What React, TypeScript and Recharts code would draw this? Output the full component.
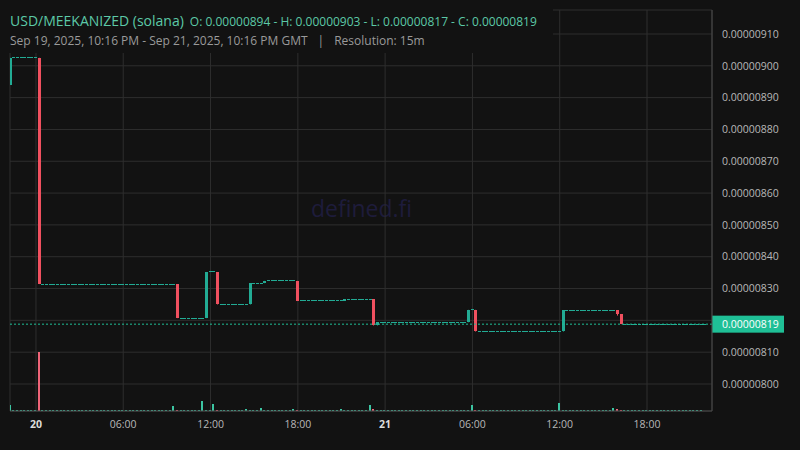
import React from "react";
import { ComposedChart, Bar, XAxis, YAxis, CartesianGrid, ReferenceLine } from "recharts";

const UP = "#22ab94";
const DOWN = "#f0505f";
const VOL_UP = "#3cc4a2";
const VOL_DOWN = "#ee6478";
const BG = "#121212";
const FONT = "'Open Sans', 'Noto Sans', sans-serif";

const PAIR = "USD/MEEKANIZED (solana)";
const OHLC_TEXT = "O: 0.00000894 - H: 0.00000903 - L: 0.00000817 - C: 0.00000819";
const RANGE_TEXT = "Sep 19, 2025, 10:16 PM - Sep 21, 2025, 10:16 PM GMT";
const RESOLUTION_TEXT = "Resolution: 15m";

// 15-minute candles, first slot Sep 19 2025 22:15 GMT
const SERIES_START = Date.UTC(2025, 8, 19, 22, 15);
const RESOLUTION_MS = 15 * 60 * 1000;

const xTicks = [
  Date.UTC(2025, 8, 20, 0, 0), Date.UTC(2025, 8, 20, 6, 0), Date.UTC(2025, 8, 20, 12, 0), Date.UTC(2025, 8, 20, 18, 0),
  Date.UTC(2025, 8, 21, 0, 0), Date.UTC(2025, 8, 21, 6, 0), Date.UTC(2025, 8, 21, 12, 0), Date.UTC(2025, 8, 21, 18, 0),
];
const yTicks = [8.0e-6, 8.1e-6, 8.2e-6, 8.3e-6, 8.4e-6, 8.5e-6, 8.6e-6, 8.7e-6, 8.8e-6, 8.9e-6, 9.0e-6, 9.1e-6];

const opens = [
  8.94e-6,
  9.025e-6, 9.025e-6, 9.025e-6, 9.025e-6, 9.025e-6, 9.025e-6, 9.025e-6, 9.025e-6,
  8.314e-6, 8.314e-6, 8.314e-6, 8.314e-6, 8.314e-6, 8.314e-6, 8.314e-6, 8.314e-6, 8.314e-6, 8.314e-6,
  8.314e-6, 8.314e-6, 8.314e-6, 8.314e-6, 8.314e-6, 8.314e-6, 8.314e-6, 8.314e-6, 8.314e-6, 8.314e-6,
  8.314e-6, 8.314e-6, 8.314e-6, 8.314e-6, 8.314e-6, 8.314e-6, 8.314e-6, 8.314e-6, 8.314e-6, 8.314e-6,
  8.314e-6, 8.314e-6, 8.314e-6, 8.314e-6, 8.314e-6, 8.314e-6, 8.314e-6, 8.314e-6,
  8.207e-6, 8.207e-6, 8.207e-6, 8.207e-6, 8.207e-6, 8.207e-6, 8.207e-6, 8.207e-6,
  8.352e-6, 8.352e-6, 8.352e-6,
  8.25e-6, 8.25e-6, 8.25e-6, 8.25e-6, 8.25e-6, 8.25e-6, 8.25e-6, 8.25e-6, 8.25e-6,
  8.317e-6, 8.317e-6, 8.317e-6, 8.317e-6,
  8.324e-6, 8.324e-6, 8.324e-6, 8.324e-6, 8.324e-6, 8.324e-6, 8.324e-6, 8.324e-6, 8.324e-6,
  8.262e-6, 8.262e-6, 8.262e-6, 8.262e-6, 8.262e-6, 8.262e-6, 8.262e-6, 8.262e-6, 8.262e-6, 8.262e-6, 8.262e-6, 8.262e-6, 8.262e-6,
  8.267e-6, 8.267e-6, 8.267e-6, 8.267e-6, 8.267e-6, 8.267e-6, 8.267e-6, 8.267e-6,
  8.184e-6,
  8.194e-6, 8.194e-6, 8.194e-6, 8.194e-6, 8.194e-6, 8.194e-6, 8.194e-6, 8.194e-6, 8.194e-6, 8.194e-6,
  8.194e-6, 8.194e-6, 8.194e-6, 8.194e-6, 8.194e-6, 8.194e-6, 8.194e-6, 8.194e-6, 8.194e-6, 8.194e-6,
  8.194e-6, 8.194e-6, 8.194e-6, 8.194e-6, 8.194e-6,
  8.233e-6, 8.233e-6,
  8.165e-6, 8.165e-6, 8.165e-6, 8.165e-6, 8.165e-6, 8.165e-6, 8.165e-6, 8.165e-6, 8.165e-6, 8.165e-6,
  8.165e-6, 8.165e-6, 8.165e-6, 8.165e-6, 8.165e-6, 8.165e-6, 8.165e-6, 8.165e-6, 8.165e-6, 8.165e-6,
  8.165e-6, 8.165e-6, 8.165e-6, 8.165e-6,
  8.232e-6, 8.232e-6, 8.232e-6, 8.232e-6, 8.232e-6, 8.232e-6, 8.232e-6, 8.232e-6, 8.232e-6, 8.232e-6,
  8.232e-6, 8.232e-6, 8.232e-6, 8.232e-6, 8.232e-6,
  8.22e-6,
  8.188e-6, 8.188e-6, 8.188e-6, 8.188e-6, 8.188e-6, 8.188e-6, 8.188e-6, 8.188e-6, 8.188e-6, 8.188e-6,
  8.188e-6, 8.188e-6, 8.188e-6, 8.188e-6, 8.188e-6, 8.188e-6, 8.188e-6, 8.188e-6, 8.188e-6, 8.188e-6,
  8.188e-6, 8.188e-6, 8.188e-6,
];

const highs = [
  9.025e-6, 9.025e-6, 9.025e-6, 9.025e-6, 9.025e-6, 9.025e-6, 9.025e-6, 9.025e-6, 9.025e-6,
  8.314e-6, 8.314e-6, 8.314e-6, 8.314e-6, 8.314e-6, 8.314e-6, 8.314e-6, 8.314e-6, 8.314e-6, 8.314e-6,
  8.314e-6, 8.314e-6, 8.314e-6, 8.314e-6, 8.314e-6, 8.314e-6, 8.314e-6, 8.314e-6, 8.314e-6, 8.314e-6,
  8.314e-6, 8.314e-6, 8.314e-6, 8.314e-6, 8.314e-6, 8.314e-6, 8.314e-6, 8.314e-6, 8.314e-6, 8.314e-6,
  8.314e-6, 8.314e-6, 8.314e-6, 8.314e-6, 8.314e-6, 8.314e-6, 8.314e-6, 8.314e-6,
  8.207e-6, 8.207e-6, 8.207e-6, 8.207e-6, 8.207e-6, 8.207e-6, 8.207e-6,
  8.352e-6, 8.352e-6, 8.352e-6, 8.352e-6,
  8.25e-6, 8.25e-6, 8.25e-6, 8.25e-6, 8.25e-6, 8.25e-6, 8.25e-6, 8.25e-6,
  8.317e-6, 8.317e-6, 8.317e-6, 8.317e-6,
  8.324e-6, 8.324e-6, 8.324e-6, 8.324e-6, 8.324e-6, 8.324e-6, 8.324e-6, 8.324e-6, 8.324e-6, 8.324e-6,
  8.262e-6, 8.262e-6, 8.262e-6, 8.262e-6, 8.262e-6, 8.262e-6, 8.262e-6, 8.262e-6, 8.262e-6, 8.262e-6, 8.262e-6, 8.262e-6,
  8.267e-6, 8.267e-6, 8.267e-6, 8.267e-6, 8.267e-6, 8.267e-6, 8.267e-6, 8.267e-6, 8.267e-6,
  8.194e-6, 8.194e-6, 8.194e-6, 8.194e-6, 8.194e-6, 8.194e-6, 8.194e-6, 8.194e-6, 8.194e-6, 8.194e-6,
  8.194e-6, 8.194e-6, 8.194e-6, 8.194e-6, 8.194e-6, 8.194e-6, 8.194e-6, 8.194e-6, 8.194e-6, 8.194e-6,
  8.194e-6, 8.194e-6, 8.194e-6, 8.194e-6, 8.194e-6,
  8.233e-6, 8.233e-6, 8.233e-6,
  8.165e-6, 8.165e-6, 8.165e-6, 8.165e-6, 8.165e-6, 8.165e-6, 8.165e-6, 8.165e-6, 8.165e-6, 8.165e-6,
  8.165e-6, 8.165e-6, 8.165e-6, 8.165e-6, 8.165e-6, 8.165e-6, 8.165e-6, 8.165e-6, 8.165e-6, 8.165e-6,
  8.165e-6, 8.165e-6, 8.165e-6,
  8.232e-6, 8.232e-6, 8.232e-6, 8.232e-6, 8.232e-6, 8.232e-6, 8.232e-6, 8.232e-6, 8.232e-6, 8.232e-6,
  8.232e-6, 8.232e-6, 8.232e-6, 8.232e-6, 8.232e-6, 8.232e-6,
  8.22e-6,
  8.188e-6, 8.188e-6, 8.188e-6, 8.188e-6, 8.188e-6, 8.188e-6, 8.188e-6, 8.188e-6, 8.188e-6, 8.188e-6,
  8.188e-6, 8.188e-6, 8.188e-6, 8.188e-6, 8.188e-6, 8.188e-6, 8.188e-6, 8.188e-6, 8.188e-6, 8.188e-6,
  8.188e-6, 8.188e-6, 8.188e-6,
];

const lows = [
  8.94e-6,
  9.025e-6, 9.025e-6, 9.025e-6, 9.025e-6, 9.025e-6, 9.025e-6, 9.025e-6,
  8.314e-6, 8.314e-6, 8.314e-6, 8.314e-6, 8.314e-6, 8.314e-6, 8.314e-6, 8.314e-6, 8.314e-6, 8.314e-6,
  8.314e-6, 8.314e-6, 8.314e-6, 8.314e-6, 8.314e-6, 8.314e-6, 8.314e-6, 8.314e-6, 8.314e-6, 8.314e-6,
  8.314e-6, 8.314e-6, 8.314e-6, 8.314e-6, 8.314e-6, 8.314e-6, 8.314e-6, 8.314e-6, 8.314e-6, 8.314e-6,
  8.314e-6, 8.314e-6, 8.314e-6, 8.314e-6, 8.314e-6, 8.314e-6, 8.314e-6, 8.314e-6,
  8.207e-6, 8.207e-6, 8.207e-6, 8.207e-6, 8.207e-6, 8.207e-6, 8.207e-6, 8.207e-6, 8.207e-6,
  8.352e-6, 8.352e-6,
  8.25e-6, 8.25e-6, 8.25e-6, 8.25e-6, 8.25e-6, 8.25e-6, 8.25e-6, 8.25e-6, 8.25e-6, 8.25e-6,
  8.317e-6, 8.317e-6, 8.317e-6, 8.317e-6,
  8.324e-6, 8.324e-6, 8.324e-6, 8.324e-6, 8.324e-6, 8.324e-6, 8.324e-6, 8.324e-6,
  8.262e-6, 8.262e-6, 8.262e-6, 8.262e-6, 8.262e-6, 8.262e-6, 8.262e-6, 8.262e-6, 8.262e-6, 8.262e-6,
  8.262e-6, 8.262e-6, 8.262e-6, 8.262e-6,
  8.267e-6, 8.267e-6, 8.267e-6, 8.267e-6, 8.267e-6, 8.267e-6, 8.267e-6,
  8.184e-6, 8.184e-6,
  8.194e-6, 8.194e-6, 8.194e-6, 8.194e-6, 8.194e-6, 8.194e-6, 8.194e-6, 8.194e-6, 8.194e-6, 8.194e-6,
  8.194e-6, 8.194e-6, 8.194e-6, 8.194e-6, 8.194e-6, 8.194e-6, 8.194e-6, 8.194e-6, 8.194e-6, 8.194e-6,
  8.194e-6, 8.194e-6, 8.194e-6, 8.194e-6, 8.194e-6,
  8.233e-6,
  8.165e-6, 8.165e-6, 8.165e-6, 8.165e-6, 8.165e-6, 8.165e-6, 8.165e-6, 8.165e-6, 8.165e-6, 8.165e-6,
  8.165e-6, 8.165e-6, 8.165e-6, 8.165e-6, 8.165e-6, 8.165e-6, 8.165e-6, 8.165e-6, 8.165e-6, 8.165e-6,
  8.165e-6, 8.165e-6, 8.165e-6, 8.165e-6, 8.165e-6,
  8.232e-6, 8.232e-6, 8.232e-6, 8.232e-6, 8.232e-6, 8.232e-6, 8.232e-6, 8.232e-6, 8.232e-6, 8.232e-6,
  8.232e-6, 8.232e-6, 8.232e-6, 8.232e-6,
  8.215e-6,
  8.188e-6, 8.188e-6, 8.188e-6, 8.188e-6, 8.188e-6, 8.188e-6, 8.188e-6, 8.188e-6, 8.188e-6, 8.188e-6,
  8.188e-6, 8.188e-6, 8.188e-6, 8.188e-6, 8.188e-6, 8.188e-6, 8.188e-6, 8.188e-6, 8.188e-6, 8.188e-6,
  8.188e-6, 8.188e-6, 8.188e-6, 8.188e-6,
];

const closes = [
  9.025e-6, 9.025e-6, 9.025e-6, 9.025e-6, 9.025e-6, 9.025e-6, 9.025e-6, 9.025e-6,
  8.314e-6, 8.314e-6, 8.314e-6, 8.314e-6, 8.314e-6, 8.314e-6, 8.314e-6, 8.314e-6, 8.314e-6, 8.314e-6,
  8.314e-6, 8.314e-6, 8.314e-6, 8.314e-6, 8.314e-6, 8.314e-6, 8.314e-6, 8.314e-6, 8.314e-6, 8.314e-6,
  8.314e-6, 8.314e-6, 8.314e-6, 8.314e-6, 8.314e-6, 8.314e-6, 8.314e-6, 8.314e-6, 8.314e-6, 8.314e-6,
  8.314e-6, 8.314e-6, 8.314e-6, 8.314e-6, 8.314e-6, 8.314e-6, 8.314e-6, 8.314e-6,
  8.207e-6, 8.207e-6, 8.207e-6, 8.207e-6, 8.207e-6, 8.207e-6, 8.207e-6, 8.207e-6,
  8.352e-6, 8.352e-6, 8.352e-6,
  8.25e-6, 8.25e-6, 8.25e-6, 8.25e-6, 8.25e-6, 8.25e-6, 8.25e-6, 8.25e-6, 8.25e-6,
  8.317e-6, 8.317e-6, 8.317e-6, 8.317e-6,
  8.324e-6, 8.324e-6, 8.324e-6, 8.324e-6, 8.324e-6, 8.324e-6, 8.324e-6, 8.324e-6, 8.324e-6,
  8.262e-6, 8.262e-6, 8.262e-6, 8.262e-6, 8.262e-6, 8.262e-6, 8.262e-6, 8.262e-6, 8.262e-6, 8.262e-6, 8.262e-6, 8.262e-6, 8.262e-6,
  8.267e-6, 8.267e-6, 8.267e-6, 8.267e-6, 8.267e-6, 8.267e-6, 8.267e-6, 8.267e-6,
  8.184e-6,
  8.194e-6, 8.194e-6, 8.194e-6, 8.194e-6, 8.194e-6, 8.194e-6, 8.194e-6, 8.194e-6, 8.194e-6, 8.194e-6,
  8.194e-6, 8.194e-6, 8.194e-6, 8.194e-6, 8.194e-6, 8.194e-6, 8.194e-6, 8.194e-6, 8.194e-6, 8.194e-6,
  8.194e-6, 8.194e-6, 8.194e-6, 8.194e-6, 8.194e-6,
  8.233e-6, 8.233e-6,
  8.165e-6, 8.165e-6, 8.165e-6, 8.165e-6, 8.165e-6, 8.165e-6, 8.165e-6, 8.165e-6, 8.165e-6, 8.165e-6,
  8.165e-6, 8.165e-6, 8.165e-6, 8.165e-6, 8.165e-6, 8.165e-6, 8.165e-6, 8.165e-6, 8.165e-6, 8.165e-6,
  8.165e-6, 8.165e-6, 8.165e-6, 8.165e-6,
  8.232e-6, 8.232e-6, 8.232e-6, 8.232e-6, 8.232e-6, 8.232e-6, 8.232e-6, 8.232e-6, 8.232e-6, 8.232e-6,
  8.232e-6, 8.232e-6, 8.232e-6, 8.232e-6, 8.232e-6,
  8.22e-6,
  8.188e-6, 8.188e-6, 8.188e-6, 8.188e-6, 8.188e-6, 8.188e-6, 8.188e-6, 8.188e-6, 8.188e-6, 8.188e-6,
  8.188e-6, 8.188e-6, 8.188e-6, 8.188e-6, 8.188e-6, 8.188e-6, 8.188e-6, 8.188e-6, 8.188e-6, 8.188e-6,
  8.188e-6, 8.188e-6, 8.188e-6, 8.188e-6,
];

const volumes = [
  600,
  90, 90, 90, 90, 90, 90, 90,
  5900,
  90, 90, 90, 90, 90, 90, 90, 90, 90, 90, 90, 90, 90, 90, 90, 90, 90, 90, 90,
  90, 90, 90, 90, 90, 90, 90, 90, 90, 90, 90, 90, 90, 90, 90, 90, 90,
  500,
  90, 90, 90, 90, 90, 90, 90,
  1000,
  90, 90,
  700,
  90, 90, 90, 90, 90, 90, 90, 90,
  200,
  90, 90, 90,
  300,
  90, 90, 90, 90, 90, 90, 90, 90,
  200,
  90, 90, 90, 90, 90, 90, 90, 90, 90, 90, 90, 90,
  200,
  90, 90, 90, 90, 90, 90, 90,
  600,
  200,
  90, 90, 90, 90, 90, 90, 90, 90, 90, 90, 90, 90, 90, 90, 90, 90, 90, 90, 90, 90, 90, 90, 90, 90,
  120,
  90,
  600,
  90, 90, 90, 90, 90, 90, 90, 90, 90, 90, 90, 90, 90, 90, 90, 90, 90, 90, 90, 90, 90, 90, 90,
  800,
  90, 90, 90, 90, 90, 90, 90, 90, 90, 90, 90, 90, 90, 90,
  300,
  150,
  90, 90, 90, 90, 90, 90, 90, 90, 90, 90, 90, 90, 90, 90, 90, 90, 90, 90, 90, 90, 90, 90, 90,
];

const data = closes.map((c, i) => ({
  t: SERIES_START + i * RESOLUTION_MS,
  o: opens[i],
  h: highs[i],
  l: lows[i],
  c,
  v: volumes[i],
}));

const LAST = closes[closes.length - 1];
const X_DOMAIN = [Date.UTC(2025, 8, 19, 22, 13), Date.UTC(2025, 8, 21, 22, 28)];
const Y_DOMAIN = [7.9151e-6, 9.1754e-6];
const VOL_DOMAIN = [0, 40100];

const Candle = (props: any) => {
  const { x, y, width, height, payload } = props;
  if (!payload) return null;
  const { o, h, l, c } = payload;
  const color = c < o ? DOWN : UP;
  const range = h - l;
  const yOf = (v: number) => (range > 0 ? y + ((h - v) / range) * height : y);
  const top = yOf(Math.max(o, c));
  const bot = yOf(Math.min(o, c));
  const rx = Math.round(x);
  const rw = Math.max(1, Math.floor(width));
  const cx = rx + Math.floor(rw / 2) + 0.5;
  if (range <= 0 || Math.abs(bot - top) < 0.5) {
    return <rect x={rx} y={Math.round(y - 0.5)} width={rw} height={1} fill={color} shapeRendering="crispEdges" />;
  }
  return (
    <g>
      <line x1={cx} x2={cx} y1={y} y2={y + height} stroke={color} strokeWidth={1} />
      <rect x={rx} y={Math.round(top)} width={rw} height={Math.max(1, Math.round(bot) - Math.round(top))} fill={color} shapeRendering="crispEdges" />
    </g>
  );
};

// volume bar: same slot as the candle, drawn 2px wide
const VolumeBar = (props: any) => {
  const { x, y, height, payload } = props;
  if (!payload) return null;
  const color = payload.c < payload.o ? VOL_DOWN : VOL_UP;
  const bottom = Math.round(y + height);
  const top = Math.min(bottom - 1, Math.round(y));
  return (
    <rect x={Math.round(x)} y={top} width={2} height={bottom - top} fill={color} shapeRendering="crispEdges" />
  );
};

const XTick = (props: any) => {
  const { x, y, payload } = props;
  const d = new Date(payload.value);
  const hh = d.getUTCHours();
  const isDay = hh === 0;
  const label = isDay ? String(d.getUTCDate()) : `${String(hh).padStart(2, "0")}:${String(d.getUTCMinutes()).padStart(2, "0")}`;
  return (
    <text x={x} y={y} dy="0.71em" textAnchor="middle" fontFamily={FONT} fontSize={10.5}
      fontWeight={isDay ? 700 : 400} fill={isDay ? "#dcdcdc" : "#b8b8b8"}>
      {label}
    </text>
  );
};

const YTick = (props: any) => {
  const { x, y, payload } = props;
  if (Math.abs(payload.value - 8.2e-6) < 1e-12) return null;
  return (
    <text x={x} y={y} dy="0.355em" textAnchor="start" fontFamily={FONT} fontSize={10.5} fill="#b8b8b8">
      {Number(payload.value).toFixed(8)}
    </text>
  );
};

const PriceTag = (props: any) => {
  const vb = props.viewBox || {};
  const left = (vb.x || 0) + (vb.width || 0);
  const cy = vb.y || 0;
  return (
    <g>
      <rect x={left} y={cy - 8.5} width={72} height={17} fill="#1fbf96" />
      <text x={left + 10} y={cy} dy="0.355em" fontFamily={FONT} fontSize={10.5} fill="#ffffff">
        {LAST.toFixed(8)}
      </text>
    </g>
  );
};

export default function App() {
  return (
    <div style={{ position: "fixed", left: 0, top: 0, width: 800, height: 450, background: BG, overflow: "hidden", fontFamily: FONT }}>
      <div style={{ position: "absolute", left: 0, top: 194, width: 723, textAlign: "center", fontSize: 23, color: "#1e1c3b", lineHeight: "28px" }}>
        defined.fi
      </div>
      <div style={{ position: "absolute", left: 0, top: 0 }}>
        <ComposedChart width={800} height={450} data={data} margin={{ top: 10, right: 0, left: 10, bottom: 0 }}>
          <CartesianGrid stroke="#2e2e2e" strokeWidth={1} />
          <XAxis dataKey="t" type="number" domain={X_DOMAIN} allowDataOverflow ticks={xTicks} interval={0}
            height={39} tickLine={false} tickMargin={4} axisLine={{ stroke: "#4a4a4a" }} tick={<XTick />} />
          <XAxis xAxisId="vol" dataKey="t" type="number" domain={X_DOMAIN} allowDataOverflow hide />
          <YAxis orientation="right" width={88} domain={Y_DOMAIN} allowDataOverflow ticks={yTicks} interval={0}
            tickLine={false} tickMargin={4} axisLine={{ stroke: "#4a4a4a" }} tick={<YTick />} />
          <YAxis yAxisId="vol" domain={VOL_DOMAIN} allowDataOverflow hide />
          <Bar xAxisId="vol" yAxisId="vol" dataKey="v" barSize={3} shape={<VolumeBar />} isAnimationActive={false} />
          <Bar dataKey={(d: any) => [d.l, d.h]} barSize={3} shape={<Candle />} isAnimationActive={false} />
          <ReferenceLine y={LAST} stroke="#1fbf96" strokeDasharray="2 2" strokeWidth={1} label={<PriceTag />} />
        </ComposedChart>
      </div>
      <div style={{ position: "absolute", left: 0, top: 0, width: 553, height: 53, background: BG }}>
        <div style={{ position: "absolute", left: 10, top: 10, whiteSpace: "nowrap", lineHeight: "20px", color: "#5cc9a7" }}>
          <span style={{ fontSize: 14 }}>{PAIR}</span>
          <span style={{ fontSize: 12, marginLeft: 6 }}>{OHLC_TEXT}</span>
        </div>
        <div style={{ position: "absolute", left: 10, top: 32, whiteSpace: "nowrap", lineHeight: "18px", fontSize: 12, color: "#9a9a9a" }}>
          <span>{RANGE_TEXT}</span>
          <span style={{ margin: "0 10px" }}>|</span>
          <span>{RESOLUTION_TEXT}</span>
        </div>
      </div>
    </div>
  );
}
